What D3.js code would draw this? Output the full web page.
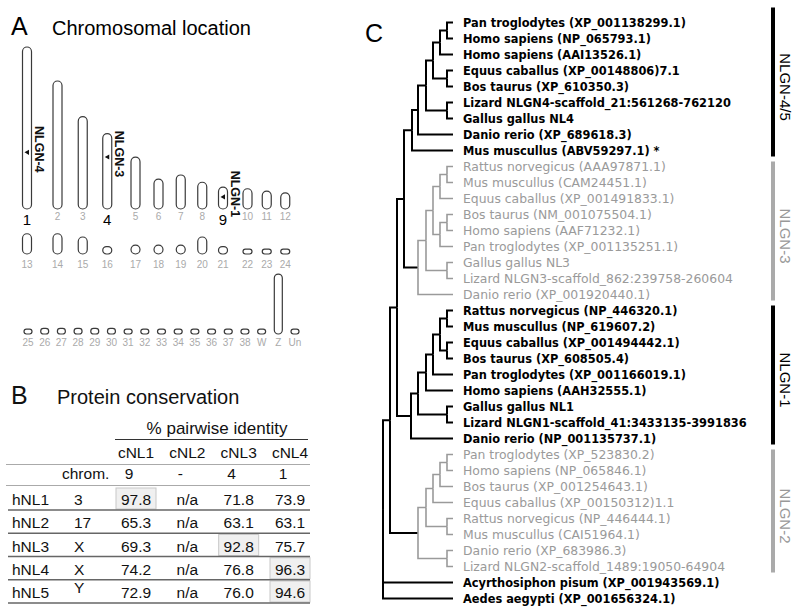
<!DOCTYPE html>
<html><head><meta charset="utf-8">
<script src="https://cdn.jsdelivr.net/npm/d3@7"></script>
<style>html,body{margin:0;padding:0;background:#fff}</style>
</head><body>
<svg id="chart" width="800" height="613"></svg>
<script>
// ---------------- DATA ----------------
// Panel A: chicken chromosomes (relative sizes, Mb-like units)
const chromLabelsRow1 = ["1","2","3","4","5","6","7","8","9","10","11","12"];
const chromSizesRow1  = [200,158,114,93,64,37,42,33,27,25,22,20];
const chromLabelsRow2 = ["13","14","15","16","17","18","19","20","21","22","23","24"];
const chromSizesRow2  = [25,25,21,9,11,11,11,21,9,6,6,6];
const chromLabelsRow3 = ["25","26","27","28","29","30","31","32","33","34","35","36","37","38","W","Z","Un"];
const chromSizesRow3  = [6,7,7,7,7,7,6,6,6,6,6,6,6,6,6,74,6];
const geneNames     = ["NLGN-4","NLGN-3","NLGN-1"];
const geneChroms    = ["1","4","9"];
const genePositions = [0.65,0.31,0.45];   // fraction along chromosome from top

// Panel B: protein conservation table
const chickenGenes  = ["cNL1","cNL2","cNL3","cNL4"];
const chickenChrom  = ["9","-","4","1"];
const humanGenes    = ["hNL1","hNL2","hNL3","hNL4","hNL5"];
const humanChrom    = ["3","17","X","X","Y"];
const identity = [
  [97.8, null, 71.8, 73.9],
  [65.3, null, 63.1, 63.1],
  [69.3, null, 92.8, 75.7],
  [74.2, null, 76.8, 96.3],
  [72.9, null, 76.0, 94.6]
];
const orthologCol = [0, null, 2, 3, 3];

// Panel C: phylogenetic tree
const leafLabels = [
  "Pan troglodytes (XP_001138299.1)","Homo sapiens (NP_065793.1)","Homo sapiens (AAI13526.1)",
  "Equus caballus (XP_00148806)7.1","Bos taurus (XP_610350.3)","Lizard NLGN4-scaffold_21:561268-762120",
  "Gallus gallus NL4","Danio rerio (XP_689618.3)","Mus muscullus (ABV59297.1) *",
  "Rattus norvegicus (AAA97871.1)","Mus muscullus (CAM24451.1)","Equus caballus (XP_001491833.1)",
  "Bos taurus (NM_001075504.1)","Homo sapiens (AAF71232.1)","Pan troglodytes (XP_001135251.1)",
  "Gallus gallus  NL3","Lizard NLGN3-scaffold_862:239758-260604","Danio rerio (XP_001920440.1)",
  "Rattus norvegicus (NP_446320.1)","Mus muscullus (NP_619607.2)","Equus caballus (XP_001494442.1)",
  "Bos taurus (XP_608505.4)","Pan troglodytes (XP_001166019.1)","Homo sapiens (AAH32555.1)",
  "Gallus gallus  NL1","Lizard NLGN1-scaffold_41:3433135-3991836","Danio rerio (NP_001135737.1)",
  "Pan troglodytes (XP_523830.2)","Homo sapiens (NP_065846.1)","Bos taurus (XP_001254643.1)",
  "Equus caballus (XP_00150312)1.1","Rattus norvegicus (NP_446444.1)","Mus muscullus (CAI51964.1)",
  "Danio rerio (XP_683986.3)","Lizard NLGN2-scaffold_1489:19050-64904",
  "Acyrthosiphon pisum (XP_001943569.1)","Aedes aegypti (XP_001656324.1)"
];
const leafClade = [].concat(
  Array(9).fill("NLGN-4/5"), Array(9).fill("NLGN-3"),
  Array(9).fill("NLGN-1"), Array(8).fill("NLGN-2"), ["out","out"]);
const cladeNames = ["NLGN-4/5","NLGN-3","NLGN-1","NLGN-2"];
const grayClades = ["NLGN-3","NLGN-2"];
// Newick topology (leaf indices) with branch lengths
const nwk45 = "((((((0:6,1:6):7,2:13):7,(3:6,4:6):14):7,(5:6,6:6):21):8,7:35):6,8:41)";
const nwk3  = "(((((9:6,10:6):7,11:13):7,((12:6,13:6):7,14:13):7):7,(15:6,16:6):21):8,17:35)";
const nwk1  = "((((((18:6,19:6):7,(20:6,21:6):7):7,22:20):7,23:27):8,(24:6,25:6):29):7,26:42)";
const nwk2  = "(((((27:6,28:6):7,29:13):7,30:20):7,(31:6,32:6):21):8,(33:6,34:6):29)";
const newick = "((((" + nwk45 + ":8," + nwk3 + ":14):7," + nwk1 + ":14):7," + nwk2 + ":28):7,35:70,36:70)";

// ---------------- DRAW ----------------
const svg = d3.select("#chart");
svg.append("rect").attr("width",800).attr("height",613).attr("fill","#fff");
const SANS = "'Liberation Sans', Arial, Helvetica, sans-serif";
const TREEF = "'DejaVu Sans', Verdana, sans-serif";

// ===== Panel A =====
const gA = svg.append("g").attr("font-family", SANS);
gA.append("text").attr("x",11).attr("y",35).attr("font-size",25).text("A");
gA.append("text").attr("x",52).attr("y",35).attr("font-size",20).text("Chromosomal location");

const hScale = d3.scaleLinear().domain([0,200]).range([0,162]);
// column grid for the macro-chromosome rows: gradually narrowing step,
// with extra room after chromosomes that carry a labelled gene
function gridColumns(labels, start){
  let x = start;
  return labels.map((l,i) => { const p = x; x += 26 - 0.75*i + (geneChroms.includes(l) ? 4.5 : 0); return p; });
}
const gridX = gridColumns(chromLabelsRow1, 27);
const rows = [
  {labels: chromLabelsRow1, sizes: chromSizesRow1, xs: (l,i) => gridX[i], bottom:209, w:9, labY:220},
  {labels: chromLabelsRow2, sizes: chromSizesRow2, xs: (l,i) => gridX[i], bottom:254, w:9, labY:268},
  {labels: chromLabelsRow3, sizes: chromSizesRow3, xs: null, range:[28,295], bottom:334, w:8, labY:346}
];
rows[2].xs = (() => { const s = d3.scalePoint().domain(chromLabelsRow3).range([28,295]); return l => s(l); })();
const chromPos = {};
rows.forEach(r => {
  const data = r.labels.map((l,i)=>({label:l, size:r.sizes[i], x:r.xs(l,i)}));
  gA.selectAll(null).data(data).enter().append("rect")
    .attr("x", d => d.x - r.w/2)
    .attr("y", d => r.bottom - hScale(d.size))
    .attr("width", r.w)
    .attr("height", d => hScale(d.size))
    .attr("rx", d => Math.min(r.w, hScale(d.size))/2)
    .attr("fill","#fff").attr("stroke","#3a3a3a").attr("stroke-width",1.2);
  data.forEach(d => { chromPos[d.label] = {x: d.x, top: r.bottom - hScale(d.size), h: hScale(d.size)}; });
  gA.selectAll(null).data(data).enter().append("text")
    .attr("x", d => d.x)
    .attr("y", d => geneChroms.includes(d.label) ? 225 : r.labY)
    .attr("text-anchor","middle")
    .attr("font-size", d => geneChroms.includes(d.label) ? 15 : 10)
    .attr("fill", d => geneChroms.includes(d.label) ? "#000" : "#aaa")
    .text(d => d.label);
});
geneNames.forEach((g,i) => {
  const c = chromPos[geneChroms[i]];
  const ym = c.top + genePositions[i]*c.h;
  gA.append("path")
    .attr("d", `M${c.x-2.5},${ym} L${c.x+2},${ym-2.6} L${c.x+2},${ym+2.6} Z`)
    .attr("fill","#111");
  gA.append("text")
    .attr("transform", `translate(${c.x+12},${ym-3}) rotate(90)`)
    .attr("text-anchor","middle").attr("dominant-baseline","central")
    .attr("font-size",12.5).attr("font-weight","bold").attr("fill","#111")
    .text(g);
});

// ===== Panel B =====
const gB = svg.append("g").attr("font-family", SANS).attr("fill","#111");
gB.append("text").attr("x",11).attr("y",404).attr("font-size",25).text("B");
gB.append("text").attr("x",57).attr("y",404).attr("font-size",20).text("Protein conservation");
const colX = d3.scalePoint().domain(chickenGenes).range([136,290]);
const rowY = d3.scalePoint().domain(humanGenes).range([505,598]);
const FS = 15.5;
gB.append("text").attr("x",217).attr("y",434).attr("text-anchor","middle").attr("font-size",17).text("% pairwise identity");
gB.append("line").attr("x1",115).attr("x2",308).attr("y1",439.5).attr("y2",439.5).attr("stroke","#333").attr("stroke-width",1.2);
gB.selectAll(null).data(chickenGenes).enter().append("text")
  .attr("x", d=>colX(d)).attr("y",458).attr("text-anchor","middle").attr("font-size",FS).text(d=>d);
gB.append("line").attr("x1",6).attr("x2",310).attr("y1",464.5).attr("y2",464.5).attr("stroke","#aaa").attr("stroke-width",1);
gB.append("text").attr("x",62).attr("y",479).attr("font-size",FS).text("chrom.");
gB.selectAll(null).data(chickenChrom).enter().append("text")
  .attr("x",(d,i)=>colX(chickenGenes[i])-7).attr("y",479).attr("text-anchor","middle").attr("font-size",FS).text(d=>d);
gB.append("line").attr("x1",6).attr("x2",310).attr("y1",485.5).attr("y2",485.5).attr("stroke","#aaa").attr("stroke-width",1);
// highlight boxes
humanGenes.forEach((h,i) => {
  const c = orthologCol[i];
  if (c === null) return;
  gB.append("rect").attr("x", colX(chickenGenes[c]) - 20).attr("y", rowY(h) - 17)
    .attr("width",40).attr("height",21)
    .attr("fill","#f0f0f0").attr("stroke","#c8c8c8").attr("stroke-width",1);
});
humanGenes.forEach((h,i) => {
  const y = rowY(h);
  gB.append("text").attr("x",12).attr("y",y).attr("font-size",FS).text(h);
  gB.append("text").attr("x",74).attr("y", humanChrom[i]==="Y" ? y-5 : y).attr("font-size",FS).text(humanChrom[i]);
  identity[i].forEach((v,j) => {
    gB.append("text").attr("x",colX(chickenGenes[j])).attr("y",y).attr("text-anchor","middle")
      .attr("font-size",FS).text(v===null ? "n/a" : d3.format(".1f")(v));
  });
  gB.append("line").attr("x1",8).attr("x2",310).attr("y1",y+5).attr("y2",y+5).attr("stroke","#666").attr("stroke-width",1.3);
});

// ===== Panel C =====
function parseNewick(s){
  let i = 0;
  function node(){
    const n = {};
    if (s[i] === "(") {
      i++; n.children = [];
      while (true) {
        n.children.push(node());
        if (s[i] === ",") { i++; continue; }
        break;
      }
      i++; // ')'
    } else {
      let name = "";
      while (i < s.length && !",):".includes(s[i])) name += s[i++];
      n.leaf = +name;
    }
    if (s[i] === ":") {
      i++; let num = "";
      while (i < s.length && !",)".includes(s[i])) num += s[i++];
      n.len = +num;
    } else n.len = 0;
    return n;
  }
  return node();
}
const root = d3.hierarchy(parseNewick(newick));
root.eachBefore(d => { d.depthLen = d.parent ? d.parent.depthLen + d.data.len : 0; });
const xT = d3.scaleLinear().domain([0,70]).range([383,453]);
const yT = d3.scalePoint().domain(d3.range(leafLabels.length)).range([22.5,598.5]);
root.eachAfter(d => {
  if (!d.children) { d.yy = yT(d.data.leaf); d.gray = grayClades.includes(leafClade[d.data.leaf]); }
  else {
    d.yy = (d.children[0].yy + d.children[d.children.length-1].yy)/2;
    d.gray = d.children.every(c => c.gray);
  }
});
const gC = svg.append("g");
gC.append("text").attr("x",365).attr("y",42).attr("font-family",SANS).attr("font-size",25).text("C");
const links = root.links();
gC.selectAll(null).data(links).enter().append("path")
  .attr("d", l => `M${xT(l.source.depthLen)},${l.source.yy}V${l.target.yy}H${xT(l.target.depthLen)}`)
  .attr("fill","none")
  .attr("stroke", l => l.source.gray ? "#9a9a9a" : "#000")
  .attr("stroke-width", l => l.source.gray ? 1.6 : 2)
  .attr("stroke-linejoin","miter");
gC.selectAll(null).data(root.leaves()).enter().append("text")
  .attr("x", 463).attr("y", d => d.yy).attr("dy","0.36em")
  .attr("font-family", TREEF)
  .attr("font-size", d => d.gray ? 12.4 : 11.4)
  .attr("font-weight", d => d.gray ? "normal" : "bold")
  .attr("fill", d => d.gray ? "#9a9a9a" : "#000")
  .text(d => leafLabels[d.data.leaf]);
// clade bars
cladeNames.forEach((c,k) => {
  const idx = leafClade.map((v,i)=>v===c?i:-1).filter(i=>i>=0);
  const y0 = yT(idx[0]) - (k === 0 ? 15 : 5), y1 = yT(idx[idx.length-1]) + 6;
  const gray = grayClades.includes(c);
  gC.append("rect").attr("x",771).attr("y",y0).attr("width",4).attr("height",y1-y0)
    .attr("fill", gray ? "#aaa" : "#000");
  gC.append("text")
    .attr("transform", `translate(785,${(y0+y1)/2 + 5}) rotate(90)`)
    .attr("text-anchor","middle").attr("dominant-baseline","central")
    .attr("font-family",SANS).attr("font-size",15)
    .attr("fill", gray ? "#999" : "#000")
    .text(c);
});
</script>
</body></html>
